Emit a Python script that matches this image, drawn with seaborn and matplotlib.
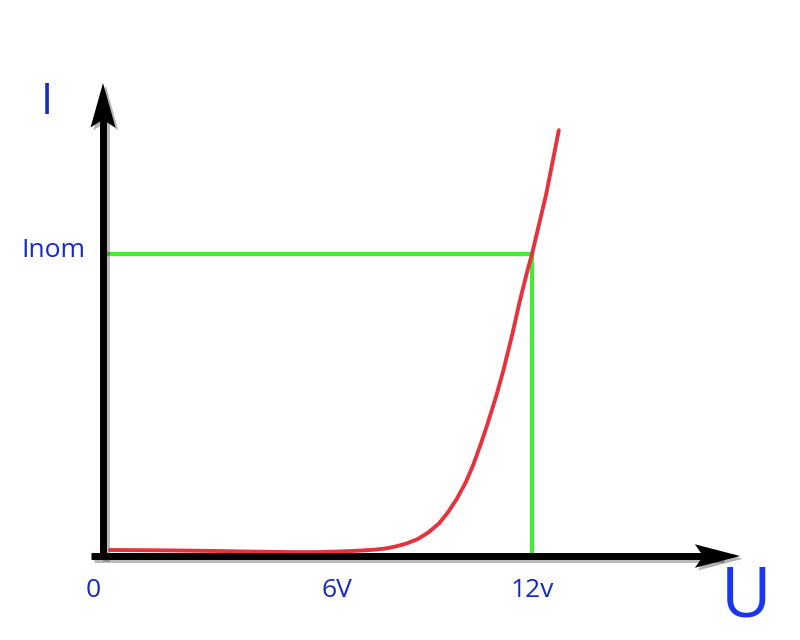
import seaborn as sns
import matplotlib.pyplot as plt
import matplotlib.patheffects as pe
from matplotlib.path import Path

# I-U curve of a diode-like load (U in volts, I relative to Inom)
voltage = [0.2, 1.5, 3.0, 4.5, 5.3, 6.0, 6.6, 7.2, 7.6, 7.9, 8.2, 8.5, 8.8,
           9.1, 9.4, 9.65, 9.9, 10.15, 10.35, 10.55, 10.75, 11.0, 11.2,
           11.45, 11.65, 11.85, 12.0, 12.2, 12.4, 12.6, 12.75]
current = [0.020, 0.019, 0.017, 0.014, 0.013, 0.013, 0.015, 0.018, 0.021,
           0.025, 0.032, 0.042, 0.056, 0.078, 0.108, 0.145, 0.190, 0.245,
           0.300, 0.365, 0.435, 0.530, 0.615, 0.735, 0.840, 0.935, 1.000,
           1.100, 1.200, 1.320, 1.410]

u_nom = 12.0
i_nom = 1.0
guide_x = [0, u_nom, u_nom]
guide_y = [i_nom, i_nom, 0]

tick_labels = ["0", "6V", "12v"]
tick_pos = [-0.28, 6.55, 12.0]

blue = "#1629c9"

sns.set_theme(style="white")
plt.rcParams["font.family"] = ["Open Sans", "DejaVu Sans"]

fig = plt.figure(figsize=(8, 6.4), dpi=100)
ax = fig.add_axes([0, 0, 1, 1])
ax.set_xlim(-2.881, 19.496)
ax.set_ylim(-0.278, 1.841)
ax.axis("off")

# green guide lines at the nominal point
ax.plot(guide_x, guide_y, color="#45ec35", lw=3, solid_joinstyle="miter", zorder=2)

# the characteristic
sns.lineplot(x=voltage, y=current, ax=ax, color="#e6323c", lw=2.8,
             sort=False, zorder=3)

# axes as arrows with notched heads (tip of marker sits on the end point)
head_right = Path([(0, 0), (-1, 0.26), (-0.82, 0), (-1, -0.26), (0, 0)],
                  [Path.MOVETO, Path.LINETO, Path.LINETO, Path.LINETO, Path.CLOSEPOLY])
head_up = Path([(0, 0), (0.28, -1), (0, -0.82), (-0.28, -1), (0, 0)],
               [Path.MOVETO, Path.LINETO, Path.LINETO, Path.LINETO, Path.CLOSEPOLY])
shadow = [pe.SimpleLineShadow(offset=(2, -2), alpha=0.3), pe.Normal()]

ax.plot([-0.33, 17.3], [0, 0], color="black", lw=5, solid_capstyle="butt",
        path_effects=shadow, zorder=4)
ax.plot([0, 0], [-0.006, 1.5], color="black", lw=5, solid_capstyle="butt",
        path_effects=shadow, zorder=4)
ax.plot([17.82], [0], marker=head_right, markersize=65, color="black",
        markeredgewidth=0, zorder=5,
        path_effects=[pe.SimplePatchShadow(offset=(2, -2), alpha=0.3), pe.Normal()])
ax.plot([0], [1.566], marker=head_up, markersize=64, color="black",
        markeredgewidth=0, zorder=5,
        path_effects=[pe.SimplePatchShadow(offset=(2, -2), alpha=0.3), pe.Normal()])

# axis labels
ax.text(-1.57, 1.50, "I", color=blue, fontsize=31, ha="center", va="center")
ax.text(18.0, -0.14, "U", color="#1a36f0", fontsize=50, ha="center", va="center")
ax.text(-1.38, 1.01, "Inom", color=blue, fontsize=19, ha="center", va="center")
for pos, lab in zip(tick_pos, tick_labels):
    ax.text(pos, -0.113, lab, color=blue, fontsize=19, ha="center", va="center")

fig.savefig("out.png", dpi=100)
